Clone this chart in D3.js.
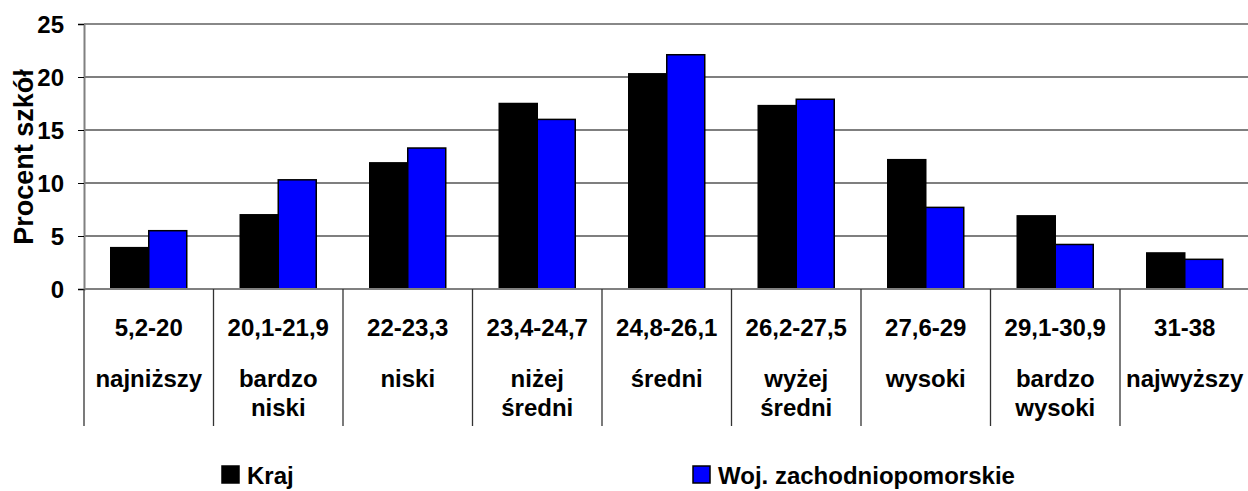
<!DOCTYPE html>
<html><head><meta charset="utf-8">
<script src="https://cdn.jsdelivr.net/npm/d3@7"></script>
<style>body{margin:0;background:#fff}svg{display:block}text{font-family:"Liberation Sans",Arial,sans-serif;font-weight:bold;fill:#000}</style>
</head><body>
<script>
const categoryRanges = ["5,2-20","20,1-21,9","22-23,3","23,4-24,7","24,8-26,1","26,2-27,5","27,6-29","29,1-30,9","31-38"];
const categoryNames = [["najniższy"],["bardzo","niski"],["niski"],["niżej","średni"],["średni"],["wyżej","średni"],["wysoki"],["bardzo","wysoki"],["najwyższy"]];
const seriesNames = ["Kraj","Woj. zachodniopomorskie"];
const kraj = [3.9, 7.0, 11.9, 17.5, 20.3, 17.3, 12.2, 6.9, 3.4];
const woj = [5.5, 10.3, 13.3, 16.0, 22.1, 17.9, 7.7, 4.2, 2.8];
const yTicks = [0,5,10,15,20,25];
const colors = ["#000000","#0000ff"];

const W=1248,H=491;
const pLeft=84,pRight=1249.5,pTop=24,pBottom=289;
const svg=d3.select("body").append("svg").attr("width",W).attr("height",H);

const x0=d3.scaleBand().domain(categoryRanges).range([pLeft,pRight]).paddingInner(0).paddingOuter(0);
const x1=d3.scaleBand().domain(seriesNames).range([0,x0.bandwidth()]).paddingInner(0).paddingOuter(0.704);
const y=d3.scaleLinear().domain([0,25]).range([pBottom,pTop]);

// gridlines
svg.append("g").selectAll("line").data(yTicks.filter(d=>d>0&&d<25)).join("line")
 .attr("x1",pLeft).attr("x2",W).attr("y1",d=>y(d)).attr("y2",d=>y(d))
 .attr("stroke","#000").attr("stroke-width",1.2);
// top border
svg.append("line").attr("x1",pLeft).attr("x2",W).attr("y1",y(25)).attr("y2",y(25)).attr("stroke","#888").attr("stroke-width",2);

// bars
const data=categoryRanges.map((c,i)=>({c,vals:[kraj[i],woj[i]]}));
const g=svg.append("g").selectAll("g").data(data).join("g").attr("transform",d=>`translate(${x0(d.c)},0)`);
g.selectAll("rect").data(d=>d.vals.map((v,j)=>({s:seriesNames[j],v,j}))).join("rect")
 .attr("x",d=>x1(d.s)).attr("width",x1.bandwidth())
 .attr("y",d=>y(d.v)).attr("height",d=>y(0)-y(d.v))
 .attr("fill",d=>colors[d.j]).attr("stroke","#000").attr("stroke-width",1.5);

// y axis
const yAxis=d3.axisLeft(y).tickValues(yTicks).tickSize(6).tickPadding(14);
const ya=svg.append("g").attr("transform",`translate(${pLeft},0)`).call(yAxis);
ya.select(".domain").attr("stroke","#808080").attr("stroke-width",2);
ya.selectAll(".tick line").attr("stroke","#000");
ya.selectAll(".tick text").style("font-size","24px").style("font-family","Liberation Sans, Arial, sans-serif").style("font-weight","bold").attr("fill","#000").attr("dy","0.36em");

// x axis baseline
svg.append("line").attr("x1",pLeft).attr("x2",W).attr("y1",pBottom).attr("y2",pBottom).attr("stroke","#808080").attr("stroke-width",2);

// category separators
const bounds=categoryRanges.map(c=>x0(c));
svg.append("g").selectAll("line").data(bounds).join("line")
 .attr("x1",d=>d).attr("x2",d=>d).attr("y1",pBottom).attr("y2",426)
 .attr("stroke","#333").attr("stroke-width",1.3);

// category labels
const lab=svg.append("g").selectAll("g").data(data).join("g").attr("transform",d=>`translate(${x0(d.c)+x0.bandwidth()/2},0)`);
lab.append("text").attr("y",336).attr("text-anchor","middle").style("font-size","24px").text(d=>d.c);
lab.each(function(d,i){
  const sel=d3.select(this);
  categoryNames[i].forEach((t,k)=>{
    sel.append("text").attr("y",387+k*29).attr("text-anchor","middle").style("font-size","24px").text(t);
  });
});

// y title
svg.append("text").attr("transform","translate(33,157) rotate(-90)").attr("text-anchor","middle").style("font-size","27px").text("Procent szkół");

// legend
const legX=[222,693];
const lg=svg.append("g").selectAll("g").data(seriesNames).join("g").attr("transform",(d,i)=>`translate(${legX[i]},0)`);
lg.append("rect").attr("x",0).attr("y",466).attr("width",17).attr("height",17).attr("fill",(d,i)=>colors[i]).attr("stroke","#000").attr("stroke-width",1.5);
lg.append("text").attr("x",25).attr("y",484).style("font-size","24px").text(d=>d);
</script>
</body></html>
